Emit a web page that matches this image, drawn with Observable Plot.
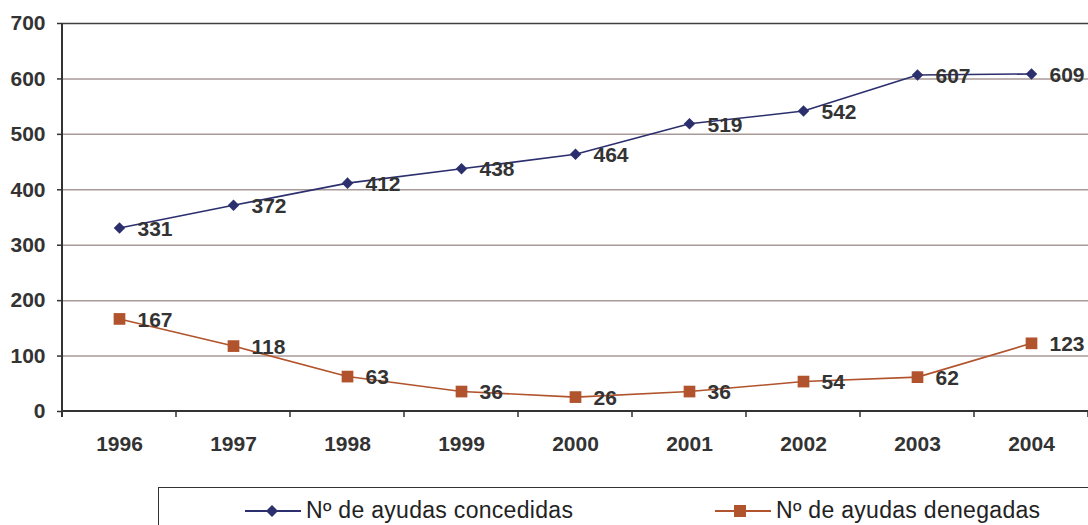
<!DOCTYPE html>
<html>
<head>
<meta charset="utf-8">
<script src="https://cdn.jsdelivr.net/npm/d3@7"></script>
<script src="https://cdn.jsdelivr.net/npm/@observablehq/plot@0.6"></script>
<style>
  html, body { margin: 0; padding: 0; background: #fff; }
  body { width: 1088px; height: 525px; overflow: hidden; position: relative; font-family: "Liberation Sans", Arial, sans-serif; }
  #legend { position: absolute; left: 158px; top: 487px; width: 960px; height: 60px; border: 1px solid #333; box-sizing: border-box; }
  .item { position: absolute; top: 9px; font-size: 23px; letter-spacing: 0.3px; color: #222; display: flex; align-items: center; }
  .item svg { margin-right: 5px; }
</style>
</head>
<body>
<div id="chart"></div>
<div id="legend"></div>
<script>
const years = ["1996","1997","1998","1999","2000","2001","2002","2003","2004"];
const concedidas = [331, 372, 412, 438, 464, 519, 542, 607, 609];
const denegadas = [167, 118, 63, 36, 26, 36, 54, 62, 123];
const seriesNames = ["Nº de ayudas concedidas", "Nº de ayudas denegadas"];
const colors = ["#2C2F6E", "#B1532C"];
const yTicks = [0, 100, 200, 300, 400, 500, 600, 700];

const rowsC = years.map((y, i) => ({year: y, value: concedidas[i]}));
const rowsD = years.map((y, i) => ({year: y, value: denegadas[i]}));

const axisLines = (index, scales, values, dimensions) => {
  const g = d3.create("svg:g");
  const x = scales.x, y = scales.y;
  const y0 = y(0);
  const left = dimensions.marginLeft;
  g.append("line").attr("x1", left).attr("x2", left).attr("y1", y(700)).attr("y2", y0 + 6)
    .attr("stroke", "#333").attr("stroke-width", 2);
  g.append("line").attr("x1", left).attr("x2", dimensions.width).attr("y1", y0).attr("y2", y0)
    .attr("stroke", "#333").attr("stroke-width", 2);
  const bounds = years.map(d => x(d)).concat([x(years[years.length-1]) + x.bandwidth()]);
  for (const b of bounds) {
    g.append("line").attr("x1", b).attr("x2", b).attr("y1", y0).attr("y2", y0 + 6)
      .attr("stroke", "#333").attr("stroke-width", 1.5);
  }
  return g.node();
};

const txt = {fontSize: 21, fontWeight: "bold", fill: "#333"};

const chart = Plot.plot({
  width: 1088,
  height: 480,
  marginTop: 23,
  marginBottom: 69,
  marginLeft: 62,
  marginRight: 0,
  style: {fontFamily: "'Liberation Sans', Arial, sans-serif", background: "#fff", overflow: "visible"},
  x: {type: "band", domain: years, padding: 0, label: null},
  y: {domain: [0, 700], label: null},
  marks: [
    Plot.ruleY(yTicks.filter(d => d > 0 && d < 700), {stroke: "#a89a98", strokeWidth: 1.5}),
    Plot.ruleY([700], {stroke: "#404040", strokeWidth: 1.5}),
    Plot.axisY({ticks: yTicks, tickSize: 5, tickPadding: 12, ...txt, stroke: "#333", strokeWidth: 1.5}),
    Plot.axisX({tickSize: 0, tickPadding: 25, ...txt}),
    axisLines,
    Plot.line(rowsC, {x: "year", y: "value", stroke: colors[0], strokeWidth: 1.6}),
    Plot.line(rowsD, {x: "year", y: "value", stroke: colors[1], strokeWidth: 1.6}),
    Plot.dot(rowsC, {x: "year", y: "value", symbol: "diamond2", r: 5.2, fill: colors[0], stroke: "none"}),
    Plot.dot(rowsD, {x: "year", y: "value", symbol: "square", r: 6.6, fill: colors[1], stroke: "none"}),
    Plot.text(rowsC, {x: "year", y: "value", text: "value", dx: 18, dy: 1, textAnchor: "start", ...txt}),
    Plot.text(rowsD, {x: "year", y: "value", text: "value", dx: 18, dy: 1, textAnchor: "start", ...txt})
  ]
});
document.getElementById("chart").appendChild(chart);

const legend = document.getElementById("legend");
const items = [
  {name: seriesNames[0], color: colors[0], sym: "diamond", left: 86},
  {name: seriesNames[1], color: colors[1], sym: "square", left: 556}
];
for (const it of items) {
  const div = document.createElement("div");
  div.className = "item";
  div.style.left = it.left + "px";
  const s = d3.create("svg").attr("width", 56).attr("height", 26);
  s.append("line").attr("x1", 0).attr("x2", 56).attr("y1", 13).attr("y2", 13).attr("stroke", it.color).attr("stroke-width", 2);
  if (it.sym === "diamond") {
    s.append("path").attr("d", "M27,7 L33,13 L27,19 L21,13 Z").attr("fill", it.color);
  } else {
    s.append("rect").attr("x", 19).attr("y", 7).attr("width", 12).attr("height", 12).attr("fill", it.color);
  }
  div.appendChild(s.node());
  const t = document.createElement("span");
  t.textContent = it.name;
  div.appendChild(t);
  legend.appendChild(div);
}
</script>
</body>
</html>
